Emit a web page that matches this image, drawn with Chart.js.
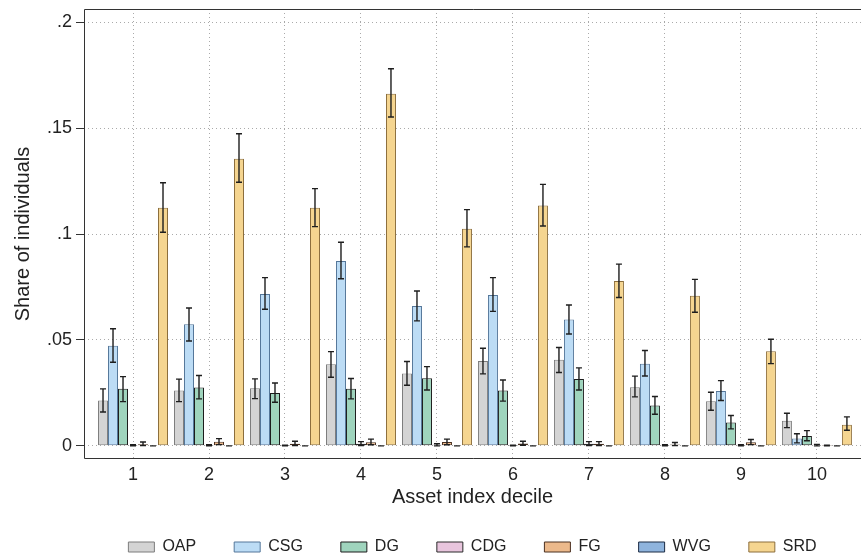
<!DOCTYPE html>
<html>
<head>
    <title>Share of individuals by asset index decile</title>
    <style>
        html, body { margin: 0; padding: 0; background: #fff; overflow: hidden; }
        .chart-container { position: relative; width: 861px; height: 557px; }
    </style>
    <script src="https://cdn.jsdelivr.net/npm/chart.js"></script>
</head>
<body>
    <div class="chart-container">
        <canvas id="myChart"></canvas>
    </div>

    <script>
        // Data
        const deciles = [1, 2, 3, 4, 5, 6, 7, 8, 9, 10];
        const yTicks = [0, 0.05, 0.1, 0.15, 0.2];
        const yTickLabels = ['0', '.05', '.1', '.15', '.2'];

        const oap   = [0.0214, 0.0261, 0.0272, 0.0385, 0.0341, 0.0401, 0.0406, 0.0277, 0.0211, 0.0119];
        const oapLo = [0.0160, 0.0209, 0.0223, 0.0324, 0.0286, 0.0340, 0.0346, 0.0231, 0.0168, 0.0086];
        const oapHi = [0.0269, 0.0315, 0.0316, 0.0445, 0.0398, 0.0461, 0.0464, 0.0329, 0.0253, 0.0154];

        const csg   = [0.0473, 0.0574, 0.0717, 0.0873, 0.0660, 0.0712, 0.0596, 0.0388, 0.0259, 0.0035];
        const csgLo = [0.0395, 0.0495, 0.0645, 0.0789, 0.0590, 0.0635, 0.0528, 0.0330, 0.0214, 0.0014];
        const csgHi = [0.0553, 0.0651, 0.0794, 0.0961, 0.0731, 0.0794, 0.0665, 0.0450, 0.0308, 0.0057];

        const dg   = [0.0269, 0.0275, 0.0250, 0.0269, 0.0319, 0.0261, 0.0316, 0.0190, 0.0110, 0.0047];
        const dgLo = [0.0209, 0.0222, 0.0206, 0.0222, 0.0264, 0.0211, 0.0264, 0.0149, 0.0080, 0.0024];
        const dgHi = [0.0327, 0.0332, 0.0297, 0.0318, 0.0374, 0.0311, 0.0368, 0.0233, 0.0143, 0.0072];

        const cdg   = [0.0002, 0.0002, 0.0001, 0.0010, 0.0005, 0.0001, 0.0010, 0.0002, 0.0002, 0.0003];
        const cdgLo = [0.0000, 0.0000, 0.0000, 0.0001, 0.0000, 0.0000, 0.0001, 0.0000, 0.0000, 0.0000];
        const cdgHi = [0.0005, 0.0005, 0.0003, 0.0020, 0.0010, 0.0003, 0.0020, 0.0005, 0.0005, 0.0007];

        const fg   = [0.0008, 0.0019, 0.0010, 0.0017, 0.0018, 0.0011, 0.0010, 0.0007, 0.0017, 0.0001];
        const fgLo = [0.0001, 0.0006, 0.0002, 0.0005, 0.0005, 0.0003, 0.0002, 0.0001, 0.0006, 0.0000];
        const fgHi = [0.0018, 0.0034, 0.0022, 0.0032, 0.0032, 0.0022, 0.0020, 0.0016, 0.0030, 0.0003];

        const wvg   = [0, 0, 0, 0, 0, 0, 0, 0, 0, 0];
        const wvgLo = [0, 0, 0, 0, 0, 0, 0, 0, 0, 0];
        const wvgHi = [0, 0, 0, 0, 0, 0, 0, 0, 0, 0];

        const srd   = [0.1124, 0.1355, 0.1124, 0.1662, 0.1025, 0.1135, 0.0778, 0.0708, 0.0447, 0.0100];
        const srdLo = [0.1008, 0.1244, 0.1035, 0.1552, 0.0939, 0.1038, 0.0700, 0.0631, 0.0388, 0.0074];
        const srdHi = [0.1242, 0.1473, 0.1214, 0.1780, 0.1115, 0.1234, 0.0858, 0.0786, 0.0503, 0.0137];

        const series = [
            { label: 'OAP', values: oap, lo: oapLo, hi: oapHi, fill: '#d4d4d4', line: '#7d7d7d' },
            { label: 'CSG', values: csg, lo: csgLo, hi: csgHi, fill: '#bcdcf5', line: '#55779a' },
            { label: 'DG',  values: dg,  lo: dgLo,  hi: dgHi,  fill: '#9fd4bd', line: '#1c1c1c' },
            { label: 'CDG', values: cdg, lo: cdgLo, hi: cdgHi, fill: '#e8c5dd', line: '#2a2a2a' },
            { label: 'FG',  values: fg,  lo: fgLo,  hi: fgHi,  fill: '#ecb98b', line: '#4a3020' },
            { label: 'WVG', values: wvg, lo: wvgLo, hi: wvgHi, fill: '#8fb4dd', line: '#1d2c45' },
            { label: 'SRD', values: srd, lo: srdLo, hi: srdHi, fill: '#f5d590', line: '#8c6e3c' }
        ];

        Chart.defaults.font.family = "'Liberation Sans', Arial, sans-serif";
        Chart.defaults.color = '#222';

        // error bars (caps) + plot frame
        const errorBars = {
            id: 'errorBars',
            afterLayout(chart) {
                // push legend down to the bottom strip like the reference
                chart.legend.top += 8;
                chart.legend.bottom += 8;
            },
            afterDatasetsDraw(chart) {
                const ctx = chart.ctx;
                const y = chart.scales.y;
                ctx.save();
                ctx.strokeStyle = '#1e1e1e';
                ctx.lineWidth = 1.4;
                chart.data.datasets.forEach((ds, i) => {
                    chart.getDatasetMeta(i).data.forEach((bar, j) => {
                        const top = y.getPixelForValue(ds.hi[j]);
                        const bottom = y.getPixelForValue(ds.lo[j]);
                        ctx.beginPath();
                        ctx.moveTo(bar.x, top); ctx.lineTo(bar.x, bottom);
                        ctx.moveTo(bar.x - 3, top); ctx.lineTo(bar.x + 3, top);
                        ctx.moveTo(bar.x - 3, bottom); ctx.lineTo(bar.x + 3, bottom);
                        ctx.stroke();
                    });
                });
                const a = chart.chartArea;
                ctx.strokeStyle = '#333';
                ctx.lineWidth = 1;
                ctx.beginPath();
                ctx.moveTo(a.right + 2, a.top + 0.5);
                ctx.lineTo(a.left + 0.5, a.top + 0.5);
                ctx.lineTo(a.left + 0.5, a.bottom - 0.5);
                ctx.lineTo(a.right + 2, a.bottom - 0.5);
                ctx.stroke();
                ctx.restore();
            }
        };

        const ctx = document.getElementById('myChart').getContext('2d');
        const myChart = new Chart(ctx, {
            type: 'bar',
            data: {
                datasets: series.map(s => ({
                    label: s.label,
                    data: deciles.map((d, i) => ({ x: d, y: s.values[i] })),
                    lo: s.lo,
                    hi: s.hi,
                    backgroundColor: s.fill,
                    borderColor: s.line,
                    borderWidth: 1,
                    borderSkipped: false,
                    categoryPercentage: 0.921,
                    barPercentage: 1.0
                }))
            },
            options: {
                responsive: true,
                maintainAspectRatio: false,
                animation: false,
                devicePixelRatio: 1,
                layout: { padding: { top: 9, left: 0, right: 0, bottom: 0 } },
                plugins: {
                    legend: {
                        position: 'bottom',
                        fullSize: false,
                        labels: {
                            boxWidth: 26,
                            boxHeight: 10,
                            padding: 38,
                            font: { size: 16 },
                            color: '#222'
                        }
                    },
                    tooltip: { enabled: false }
                },
                scales: {
                    x: {
                        type: 'linear',
                        min: 0.355,
                        max: 10.58,
                        offset: false,
                        afterBuildTicks: s => { s.ticks = deciles.map(v => ({ value: v })); },
                        afterFit: s => { s.height = 34; s.paddingLeft = 0; s.paddingRight = 0; },
                        ticks: {
                            font: { size: 18 },
                            color: '#222',
                            padding: 5,
                            maxRotation: 0,
                            callback: v => String(v)
                        },
                        grid: { color: '#aaaaaa', drawTicks: false, offset: false },
                        border: { display: false, dash: [1, 3] },
                        title: {
                            display: true,
                            text: 'Asset index decile',
                            font: { size: 20 },
                            color: '#222',
                            padding: { top: 0, bottom: -16 }
                        }
                    },
                    y: {
                        min: -0.0062,
                        max: 0.2062,
                        afterBuildTicks: s => { s.ticks = yTicks.map(v => ({ value: v })); },
                        afterFit: s => { s.width = 84; s.paddingTop = 0; s.paddingBottom = 0; },
                        ticks: {
                            font: { size: 18 },
                            color: '#222',
                            padding: 4,
                            callback: v => yTickLabels[yTicks.indexOf(v)]
                        },
                        grid: {
                            color: '#aaaaaa',
                            tickColor: '#333',
                            tickLength: 8,
                            tickBorderDash: []
                        },
                        border: { display: false, dash: [1, 3] },
                        title: {
                            display: true,
                            text: 'Share of individuals',
                            font: { size: 20 },
                            color: '#222',
                            padding: { top: 11, bottom: 0 }
                        }
                    }
                }
            },
            plugins: [errorBars]
        });
    </script>
</body>
</html>
